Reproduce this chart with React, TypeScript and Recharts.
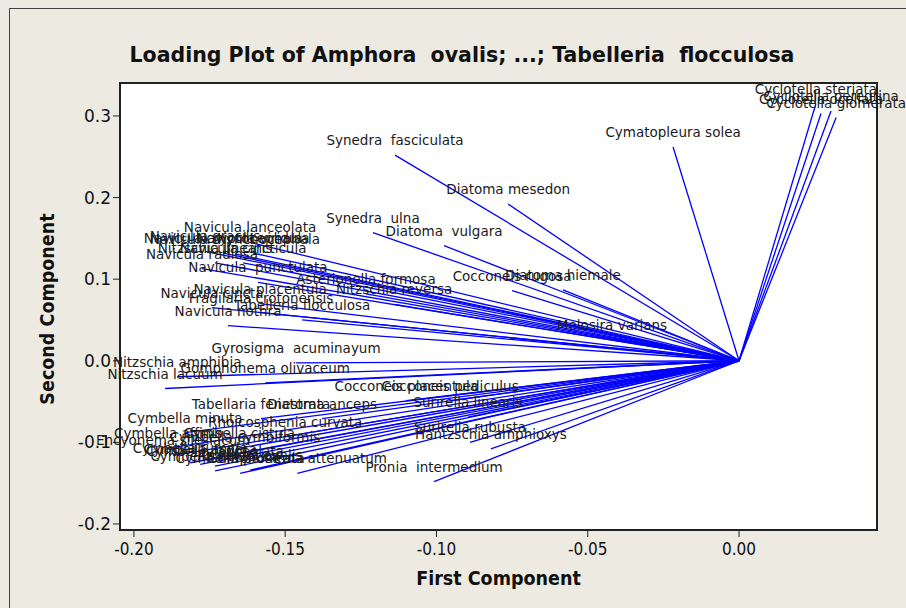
import React from "react";
import { ScatterChart, Scatter, XAxis, YAxis, ReferenceLine } from "recharts";

// loadings: first and second component per taxon
const names = [
  "Cyclotella steriata", "Cyclotella ocellata", "Cyclotella peregrina", "Cyclotella glomerata",
  "Cymatopleura solea", "Synedra  fasciculata", "Diatoma mesedon", "Synedra  ulna",
  "Diatoma  vulgara", "Cocconeis rugosa", "Diatoma hiemale", "Melosira varians",
  "Asterionella formosa", "Nitzschia reversa", "Navicula lanceolata", "Navicula cryptocephala",
  "Navicula rhynchocephala", "Navicula viridula", "Navicula gracilis", "Nitzschia linearis",
  "Navicula cincticula", "Navicula radiosa", "Navicula  punctulata", "Navicula placentula",
  "Navicula cincta", "Fragilaria crotonensis", "Tabelleria flocculosa", "Navicula nothra",
  "Gyrosigma  acuminayum", "Nitzschia amphibia", "Gomphonema olivaceum", "Nitzschia lacuum",
  "Cocconeis placentula", "Cocconeis pediculus", "Tabellaria fenestrata", "Diatoma anceps",
  "Surirella linearis", "Cymbella minuta", "Rhoicosphenia curvata", "Surirella rubusta",
  "Hantzschia amphioxys", "Cymbella affinis", "Cymbella cistula", "Cymbella cymbiformis",
  "Encyonema silesiacum", "Cymbella tumida", "Cymbella aspera", "Cymbella lanceolata",
  "Cymbella helvetica", "Amphora ovalis", "Cymbella prostrata", "Gomphonema attenuatum",
  "Pronia  intermedium",
];

const pc1 = [
  0.0254, 0.0271, 0.0304, 0.0321,
  -0.0218, -0.1137, -0.0763, -0.121,
  -0.0975, -0.075, -0.0582, -0.042,
  -0.1233, -0.114, -0.1616, -0.1705,
  -0.1666, -0.1606, -0.1765, -0.1732,
  -0.1639, -0.1775, -0.159, -0.1583,
  -0.1742, -0.158, -0.1444, -0.1689,
  -0.1464, -0.1857, -0.1566, -0.1897,
  -0.110, -0.0955, -0.158, -0.1378,
  -0.0896, -0.1831, -0.150, -0.0889,
  -0.082, -0.1887, -0.1652, -0.1633,
  -0.187, -0.1814, -0.1781, -0.1732,
  -0.1732, -0.1616, -0.1649, -0.146,
  -0.1008,
];

const pc2 = [
  0.315, 0.303, 0.306, 0.298,
  0.262, 0.252, 0.192, 0.157,
  0.141, 0.086, 0.087, 0.026,
  0.082, 0.069, 0.145, 0.132,
  0.131, 0.132, 0.134, 0.120,
  0.120, 0.113, 0.096, 0.070,
  0.065, 0.059, 0.050, 0.043,
  -0.0025, -0.0196, -0.027, -0.034,
  -0.049, -0.049, -0.071, -0.071,
  -0.069, -0.088, -0.093, -0.100,
  -0.108, -0.107, -0.107, -0.112,
  -0.116, -0.125, -0.127, -0.129,
  -0.135, -0.134, -0.138, -0.138,
  -0.148,
];

const xTicks = [-0.2, -0.15, -0.1, -0.05, 0];
const yTicks = [-0.2, -0.1, 0, 0.1, 0.2, 0.3];

const points = names.map((name, i) => ({ name, x: pc1[i], y: pc2[i] }));

const LabelShape = (p: any) => (
  <text x={p.cx} y={p.cy - 10} textAnchor="middle" fontSize={13.5}
    fontFamily="DejaVu Sans" fill="#1a1a1a" style={{ whiteSpace: "pre" }}>
    {p.payload.name}
  </text>
);

export default function App() {
  return (
    <div style={{ position: "relative", width: 906, height: 608, overflow: "hidden", background: "#edeae1" }}>
      <style>{"body{margin:0}"}</style>
      <div style={{ position: "absolute", left: 9, top: 8, width: 1000, height: 1000,
        borderLeft: "1px solid #444", borderTop: "1px solid #444" }} />
      <div style={{ position: "absolute", left: 119, top: 82, width: 759, height: 449,
        boxSizing: "border-box", border: "2px solid #222", background: "#fff" }} />
      <div style={{ position: "absolute", left: 0, width: 924, top: 43, textAlign: "center",
        fontFamily: "DejaVu Sans", fontWeight: "bold", fontSize: 20.5, whiteSpace: "pre", color: "#111" }}>
        {"Loading Plot of Amphora  ovalis; ...; Tabelleria  flocculosa"}
      </div>
      <div style={{ position: "absolute", left: 120, width: 757, top: 567, textAlign: "center",
        fontFamily: "DejaVu Sans Condensed", fontWeight: "bold", fontSize: 19.5, color: "#111" }}>
        First Component
      </div>
      <div style={{ position: "absolute", left: 47, top: 309, width: 0, height: 0 }}>
        <div style={{ position: "absolute", transform: "translate(-50%, -50%) rotate(-90deg)",
          whiteSpace: "nowrap", fontFamily: "DejaVu Sans Condensed", fontWeight: "bold", fontSize: 19.5, color: "#111" }}>
          Second Component
        </div>
      </div>
      <div style={{ position: "absolute", left: 0, top: 0 }}>
        <ScatterChart width={906} height={608} margin={{ top: 83, right: 29, bottom: 0, left: 0 }}>
          <XAxis type="number" dataKey="x" domain={[-0.2046, 0.0456]} ticks={xTicks}
            axisLine={false} tickSize={7} tickMargin={6} tickLine={{ stroke: "#222" }}
            height={78} tickFormatter={(v: number) => v.toFixed(2)}
            tick={{ fill: "#111", fontSize: 17, fontFamily: "DejaVu Sans Condensed" }} />
          <YAxis type="number" dataKey="y" domain={[-0.2074, 0.3404]} ticks={yTicks}
            axisLine={false} tickSize={7} tickLine={{ stroke: "#222" }}
            width={120} tickFormatter={(v: number) => v.toFixed(1)}
            tick={{ fill: "#111", fontSize: 17, fontFamily: "DejaVu Sans" }} />
          {points.map((p) => (
            <ReferenceLine key={p.name} segment={[{ x: 0, y: 0 }, { x: p.x, y: p.y }]}
              stroke="#0000ff" strokeWidth={1.3} ifOverflow="visible" />
          ))}
          <Scatter data={points} shape={LabelShape} isAnimationActive={false} />
        </ScatterChart>
      </div>
    </div>
  );
}
